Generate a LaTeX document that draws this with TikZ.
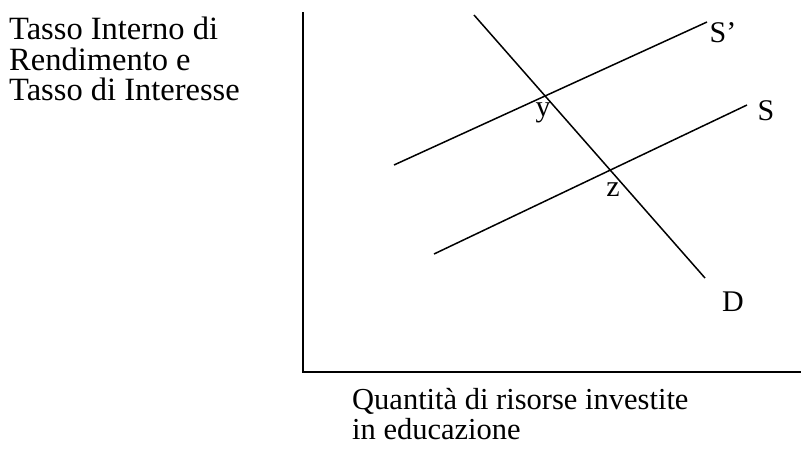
\documentclass[tikz,border=0pt]{standalone}
\usepackage{fontspec}
\setmainfont{Liberation Serif}
\usetikzlibrary{positioning}

\begin{document}
\begin{tikzpicture}[
    x=1pt, y=-1pt,
    axis/.style={line width=2.6pt, draw=black},
    curve/.style={line width=1.5pt, draw=black},
    lbl/.style={font=\fontsize{30}{30}\selectfont, inner sep=0pt},
    caption/.style={align=left, inner sep=0pt, anchor=north west}
]
\useasboundingbox (0,0) rectangle (801,448);

% Axes
\coordinate (origin) at (303,372);
\coordinate (ytop) at (303,12);
\coordinate (xend) at (801,372);
\draw [axis] (ytop) -- (origin) -- (xend);

% Curve end points
\coordinate (d_start) at (474,15);
\coordinate (d_end) at (705,278);
\coordinate (sp_start) at (394,165);
\coordinate (sp_end) at (707,22);
\coordinate (s_start) at (434,254);
\coordinate (s_end) at (747,105);

% Demand and supply curves
\draw [curve] (d_start) -- (d_end);
\draw [curve] (sp_start) -- (sp_end);
\draw [curve] (s_start) -- (s_end);

% Labels
\node (lab_sp) [lbl] at (723,33) {S’};
\node (lab_s) [lbl] at (766,111) {S};
\node (lab_d) [lbl] at (733,302) {D};
\node (lab_y) [lbl] at (543,113) {y};
\node (lab_z) [lbl] at (613,190) {z};

% Axis captions
\node (ycap) [caption, font=\fontsize{32.5}{30.5}\selectfont] at (9,17) {Tasso Interno di\\Rendimento e\\Tasso di Interesse};
\node (xcap) [caption, font=\fontsize{30.5}{30}\selectfont] at (352,388) {Quantità di risorse investite\\in educazione};

\end{tikzpicture}
\end{document}
